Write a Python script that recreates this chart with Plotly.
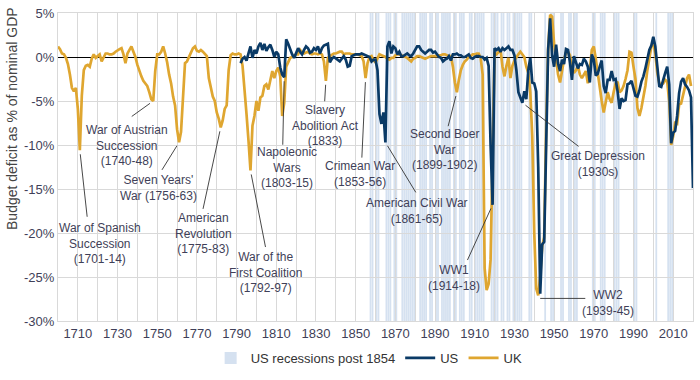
import plotly.graph_objects as go

# ---------------- data ----------------
uk_years = list(range(1700, 2020))
uk_values = [
    1.2, 0.9, 0.4, 0.3, -0.1, -0.8, -2.0, -3.5, -3.9, -3.5,        # 1700s
    -5.9, -10.6, -4.4, -1.5, -1.0, -0.9, -1.1, -0.2, 0.3, -0.1,    # 1710s
    0.1, 0.3, -0.5, 0.0, 0.4, 0.4, 0.3, 0.3, 0.4, 0.6,             # 1720s
    0.8, 0.9, 1.0, 0.3, -0.7, 0.4, 0.8, 1.2, 0.6, 0.0,             # 1730s
    -0.9, -1.6, -2.2, -2.7, -3.0, -3.3, -4.0, -4.8, -5.0, -1.6,    # 1740s
    0.3, 0.3, 0.6, 1.2, 0.4, -0.6, -2.0, -3.0, -4.5, -5.5,         # 1750s
    -8.2, -9.7, -8.5, -4.0, -0.7, -0.5, 0.0, 0.5, 1.0, 1.2,        # 1760s
    0.7, 0.6, 0.8, 0.6, 0.4, 0.1, -2.4, -3.5, -4.5, -5.0,          # 1770s
    -6.3, -7.0, -8.0, -7.2, -5.9, -5.5, -1.5, 0.2, 0.4, 0.3,       # 1780s
    0.3, 0.4, 0.3, -1.0, -3.5, -6.5, -9.5, -12.9, -7.8, -6.7,      # 1790s
    -5.0, -6.1, -4.6, -4.4, -3.3, -3.1, -3.7, -2.6, -1.6, -2.4,    # 1800s
    -1.6, -1.2, -2.2, -6.7, -5.2, -1.1, -0.5, -0.1, 0.0, 0.2,      # 1810s
    0.3, 0.3, 0.8, 0.5, 0.4, 0.5, 0.6, 0.4, 0.3, 0.4,              # 1820s
    0.4, 0.3, 0.4, 0.3, -0.5, -2.7, -0.1, 0.1, 0.3, 0.4,           # 1830s
    0.4, 0.5, 0.6, 0.6, 0.3, 0.4, 0.4, 0.4, 0.3, 0.3,              # 1840s
    0.3, 0.3, 0.2, 0.1, -0.5, -2.4, -0.7, 0.0, 0.1, -0.4,          # 1850s
    -0.6, -0.2, 0.3, 0.2, 0.1, 0.0, -0.2, -0.3, -0.1, -0.1,        # 1860s
    0.2, 0.3, 0.3, 0.2, 0.1, 0.0, -0.1, -0.3, -0.5, -0.2,          # 1870s
    -0.1, 0.1, 0.1, 0.0, -0.1, -0.2, -0.1, 0.0, 0.1, 0.1,          # 1880s
    0.1, 0.1, 0.2, 0.2, 0.3, 0.3, 0.2, 0.1, 0.1, -1.1,             # 1890s
    -2.9, -4.0, -2.6, -1.5, -0.9, -0.5, -0.3, 0.0, 0.1, 0.3,       # 1900s
    0.3, 0.4, 0.4, -0.1, -2.0, -24.0, -26.5, -25.8, -23.0, -12.0,  # 1910s
    0.5, 0.3, 0.5, 0.8, -1.1, -2.2, -1.0, -0.1, -2.4, -1.0,        # 1920s
    -0.4, 0.0, 0.3, 0.6, 0.3, 0.0, -1.1, -1.8, -4.0, -9.0,         # 1930s
    -20.0, -26.3, -27.1, -25.0, -21.5, -20.5, -8.0, 1.0, 4.8, 4.6, # 1940s
    1.5, -0.5, -2.0, -2.9, -1.5, -0.3, 0.5, 0.6, 0.2, -1.2,        # 1950s
    -1.8, -1.5, -1.0, -2.0, -2.4, -2.0, -1.6, -3.0, -1.5, 0.8,     # 1960s
    1.2, -0.2, -2.0, -3.5, -5.0, -6.3, -5.0, -4.0, -4.8, -5.2,     # 1970s
    -4.0, -3.0, -2.8, -4.0, -3.8, -3.3, -2.5, -1.5, 0.6, 0.5,      # 1980s
    -1.1, -2.5, -5.8, -6.7, -5.8, -4.5, -3.3, -1.5, 0.0, 1.2,      # 1990s
    1.6, 0.4, -1.8, -3.0, -3.1, -3.0, -2.6, -2.8, -5.0, -10.0,     # 2000s
    -9.0, -7.5, -7.6, -5.4, -5.3, -4.2, -3.3, -2.4, -2.0, -3.3,    # 2010s
]

us_years = list(range(1792, 2021))
us_values = [
    -0.7, -0.2, 0.0, -0.4, 0.4, 1.2, -0.1, 0.8,                    # 1792-99
    0.4, 1.2, 1.6, 0.8, 1.5, 0.7, 1.1, 1.4, 0.8, 0.0,              # 1800s
    0.6, 0.3, -1.2, -2.0, -2.3, 2.0, 1.5, 0.8, 0.3, -0.1,          # 1810s
    0.4, 1.0, 0.6, 0.3, 0.8, 1.2, 1.0, 0.5, 0.6, 1.0,              # 1820s
    0.8, 1.2, 0.4, 1.0, 1.3, 1.4, 1.5, -0.6, -0.2, 0.0,            # 1830s
    -0.2, -0.3, -0.5, -0.2, 0.1, -0.3, -1.1, -1.0, 0.1, 0.2,       # 1840s
    0.3, 0.3, 0.3, 0.4, 0.3, 0.2, 0.1, 0.0, -0.5, -0.3,            # 1850s
    -0.3, -1.5, -6.5, -7.6, -6.3, -9.7, 1.2, 1.8, 0.4, 1.2,        # 1860s
    1.0, 0.3, 0.6, 0.1, 0.1, 0.3, 0.4, 0.2, 0.1, 0.4,              # 1870s
    0.9, 1.2, 1.2, 0.8, 0.6, 0.4, 0.6, 0.8, 0.8, 0.5,              # 1880s
    0.6, 0.3, 0.0, -0.1, -0.5, -0.3, -0.2, 0.1, -0.4, 0.3,         # 1890s
    0.3, 0.4, 0.2, 0.2, 0.0, 0.0, 0.2, 0.3, -0.1, -0.2,            # 1900s
    0.0, 0.1, 0.1, 0.0, 0.0, -0.3, -0.1, -1.0, -10.0, -16.8,       # 1910s
    1.0, 0.8, 1.0, 0.6, 1.0, 0.8, 1.0, 1.2, 0.8, 0.8,              # 1920s
    0.2, -1.5, -4.0, -4.5, -5.2, -3.9, -4.8, -1.5, -0.1, -2.9,     # 1930s
    -3.0, -3.9, -12.5, -26.9, -21.3, -21.0, -8.5, 0.8, 4.4, 0.2,   # 1940s
    -1.1, 1.4, -0.7, -1.6, -0.3, -0.8, 0.9, 0.8, -0.6, -2.6,       # 1950s
    0.1, -0.6, -1.3, -0.8, -0.9, -0.2, -0.5, -1.1, -2.9, 0.3,      # 1960s
    -0.3, -2.1, -1.9, -1.1, -0.4, -3.3, -4.1, -2.6, -2.6, -1.6,    # 1970s
    -2.6, -2.5, -3.9, -5.9, -4.7, -5.0, -4.9, -3.1, -3.0, -2.7,    # 1980s
    -3.7, -4.4, -4.5, -3.8, -2.8, -2.2, -1.3, -0.3, 0.8, 1.3,      # 1990s
    2.3, 1.2, -1.5, -3.3, -3.4, -2.5, -1.8, -1.1, -3.1, -9.8,      # 2000s
    -8.6, -8.4, -6.7, -4.1, -2.8, -2.4, -3.1, -3.4, -3.8, -4.6,    # 2010s
    -14.9,                                                          # 2020
]

# Calendar years touched by a US recession (NBER), post 1854
recession_years = [
    1857, 1858, 1860, 1861, 1865, 1866, 1867, 1869, 1870,
    1873, 1874, 1875, 1876, 1877, 1878, 1879, 1882, 1883, 1884, 1885,
    1887, 1888, 1890, 1891, 1893, 1894, 1895, 1896, 1897, 1899, 1900,
    1902, 1903, 1904, 1907, 1908, 1910, 1911, 1912, 1913, 1914,
    1918, 1919, 1920, 1921, 1923, 1924, 1926, 1927,
    1929, 1930, 1931, 1932, 1933, 1937, 1938, 1945, 1948, 1949,
    1953, 1954, 1957, 1958, 1960, 1961, 1969, 1970, 1973, 1974, 1975,
    1980, 1981, 1982, 1990, 1991, 2001, 2007, 2008, 2009, 2020,
]

x_tick_vals = list(range(1710, 2011, 20))
x_tick_text = [str(v) for v in x_tick_vals]
y_tick_vals = [5, 0, -5, -10, -15, -20, -25, -30]
y_tick_text = ["5%", "0%", "-5%", "-10%", "-15%", "-20%", "-25%", "-30%"]

series = {"UK": dict(zip(uk_years, uk_values)), "US": dict(zip(us_years, us_values))}

# label, series, year, leader end offset (px), text centre offset (px), yshift
labels = [
    ("War of Spanish<br>Succession<br>(1701-14)", "UK", 1711, (7.5, 68), (20, 93.5), 0),
    ("War of Austrian<br>Succession<br>(1740-48)", "UK", 1748, (-23, 16.5), (-26.5, 44), 0),
    ("Seven Years'<br>War (1756-63)", "UK", 1761, (-18, 29), (-20.5, 46), 0),
    ("American<br>Revolution<br>(1775-83)", "UK", 1782, (-18, 83), (-17.4, 105.6), 0),
    ("War of the<br>First Coalition<br>(1792-97)", "UK", 1797, (15.3, 78), (15.3, 102), 0),
    ("Napoleonic<br>Wars<br>(1803-15)", "US", 1814, (-1.5, 69), (2.5, 90.6), 0),
    ("Slavery<br>Abolition Act<br>(1833)", "UK", 1835, (-1.3, 22), (-0.6, 44.7), 0),
    ("Crimean War<br>(1853-56)", "UK", 1855, (-3.8, 81), (-5.5, 95.4), 0),
    ("American Civil War<br>(1861-65)", "US", 1865, (31.3, 51.5), (31.3, 68.2), 0),
    ("Second Boer<br>War<br>(1899-1902)", "UK", 1901, (-9.1, 35.5), (-12.5, 57.5), 0),
    ("WW1<br>(1914-18)", "US", 1919, (-25.8, 56.7), (-38.5, 72.9), 0),
    ("Great Depression<br>(1930s)", "US", 1934, (57.7, 44.8), (76, 61), 0),
    ("WW2<br>(1939-45)", "US", 1943, (46.6, 0), (67.6, 9.7), -4.7),
]

# ---------------- style ----------------
FONT = "Liberation Sans, Arial, Helvetica, sans-serif"
UK_COL = "#DFA630"
US_COL = "#0A3A66"
BAND_COL = "#D5E1F0"
GRID = "#D9D9D9"
TXT = "#3F3F58"
BAND_W = 0.9

fig = go.Figure()

# legend entry for recession bands
fig.add_trace(go.Bar(x=[None], y=[None], name="US recessions post 1854",
                     marker=dict(color=BAND_COL, line=dict(width=0)),
                     legendrank=1, hoverinfo="skip"))
fig.add_trace(go.Scatter(x=uk_years, y=uk_values, mode="lines", name="UK",
                         line=dict(color=UK_COL, width=2.7), legendrank=3))
fig.add_trace(go.Scatter(x=us_years, y=us_values, mode="lines", name="US",
                         line=dict(color=US_COL, width=2.7), legendrank=2))

shapes = []
for yr in recession_years:
    c = yr + 0.5
    shapes.append(dict(type="rect", xref="x", yref="paper",
                       x0=c - BAND_W / 2, x1=c + BAND_W / 2, y0=0, y1=1,
                       fillcolor=BAND_COL, line=dict(width=0), layer="below"))

annotations = []
for text, ser, yr, (lx, ly), (tx, ty), ysh in labels:
    val = series[ser][yr]
    annotations.append(dict(x=yr, y=val, xref="x", yref="y", text="", showarrow=True,
                            arrowhead=0, arrowwidth=0.9, arrowcolor="#333333",
                            axref="pixel", ayref="pixel", ax=lx, ay=ly,
                            standoff=4 if ysh == 0 else 0, yshift=ysh))
    annotations.append(dict(x=yr, y=val, xref="x", yref="y", text=text, showarrow=False,
                            xshift=tx, yshift=-ty, xanchor="center", yanchor="middle",
                            align="center", font=dict(family=FONT, size=12, color=TXT)))

annotations.append(dict(x=-0.0724, y=0.656, xref="paper", yref="paper",
                        text="Budget deficit as % of nominal GDP", textangle=-90,
                        showarrow=False, xanchor="center", yanchor="middle",
                        font=dict(family=FONT, size=14, color="#444444")))

fig.update_layout(
    width=700, height=380,
    margin=dict(l=58, r=7, t=13, b=56),
    paper_bgcolor="white", plot_bgcolor="white",
    font=dict(family=FONT, size=13, color=TXT),
    showlegend=True,
    legend=dict(orientation="h", x=0.49, xanchor="center", y=-0.12, yanchor="middle",
                font=dict(family=FONT, size=13, color="#333333"),
                itemwidth=30, bgcolor="rgba(0,0,0,0)"),
    shapes=shapes,
    annotations=annotations,
    bargap=0,
)
fig.update_xaxes(range=[1700, 2020], tickvals=x_tick_vals, ticktext=x_tick_text,
                 showgrid=True, gridcolor=GRID, gridwidth=1,
                 minor=dict(dtick=10, tick0=1700, showgrid=True, gridcolor=GRID, gridwidth=1),
                 showline=True, linecolor=GRID, linewidth=1, mirror=True,
                 ticks="", zeroline=False, tickfont=dict(family=FONT, size=13, color=TXT))
fig.update_yaxes(range=[-30, 5], tickvals=y_tick_vals, ticktext=y_tick_text,
                 showgrid=True, gridcolor=GRID, gridwidth=1,
                 showline=True, linecolor=GRID, linewidth=1, mirror=True,
                 zeroline=True, zerolinecolor="#000000", zerolinewidth=1,
                 ticks="", tickfont=dict(family=FONT, size=13, color=TXT))

fig.write_html("out.html", config={"displayModeBar": False},
               post_script="document.body.style.margin='0px';")
